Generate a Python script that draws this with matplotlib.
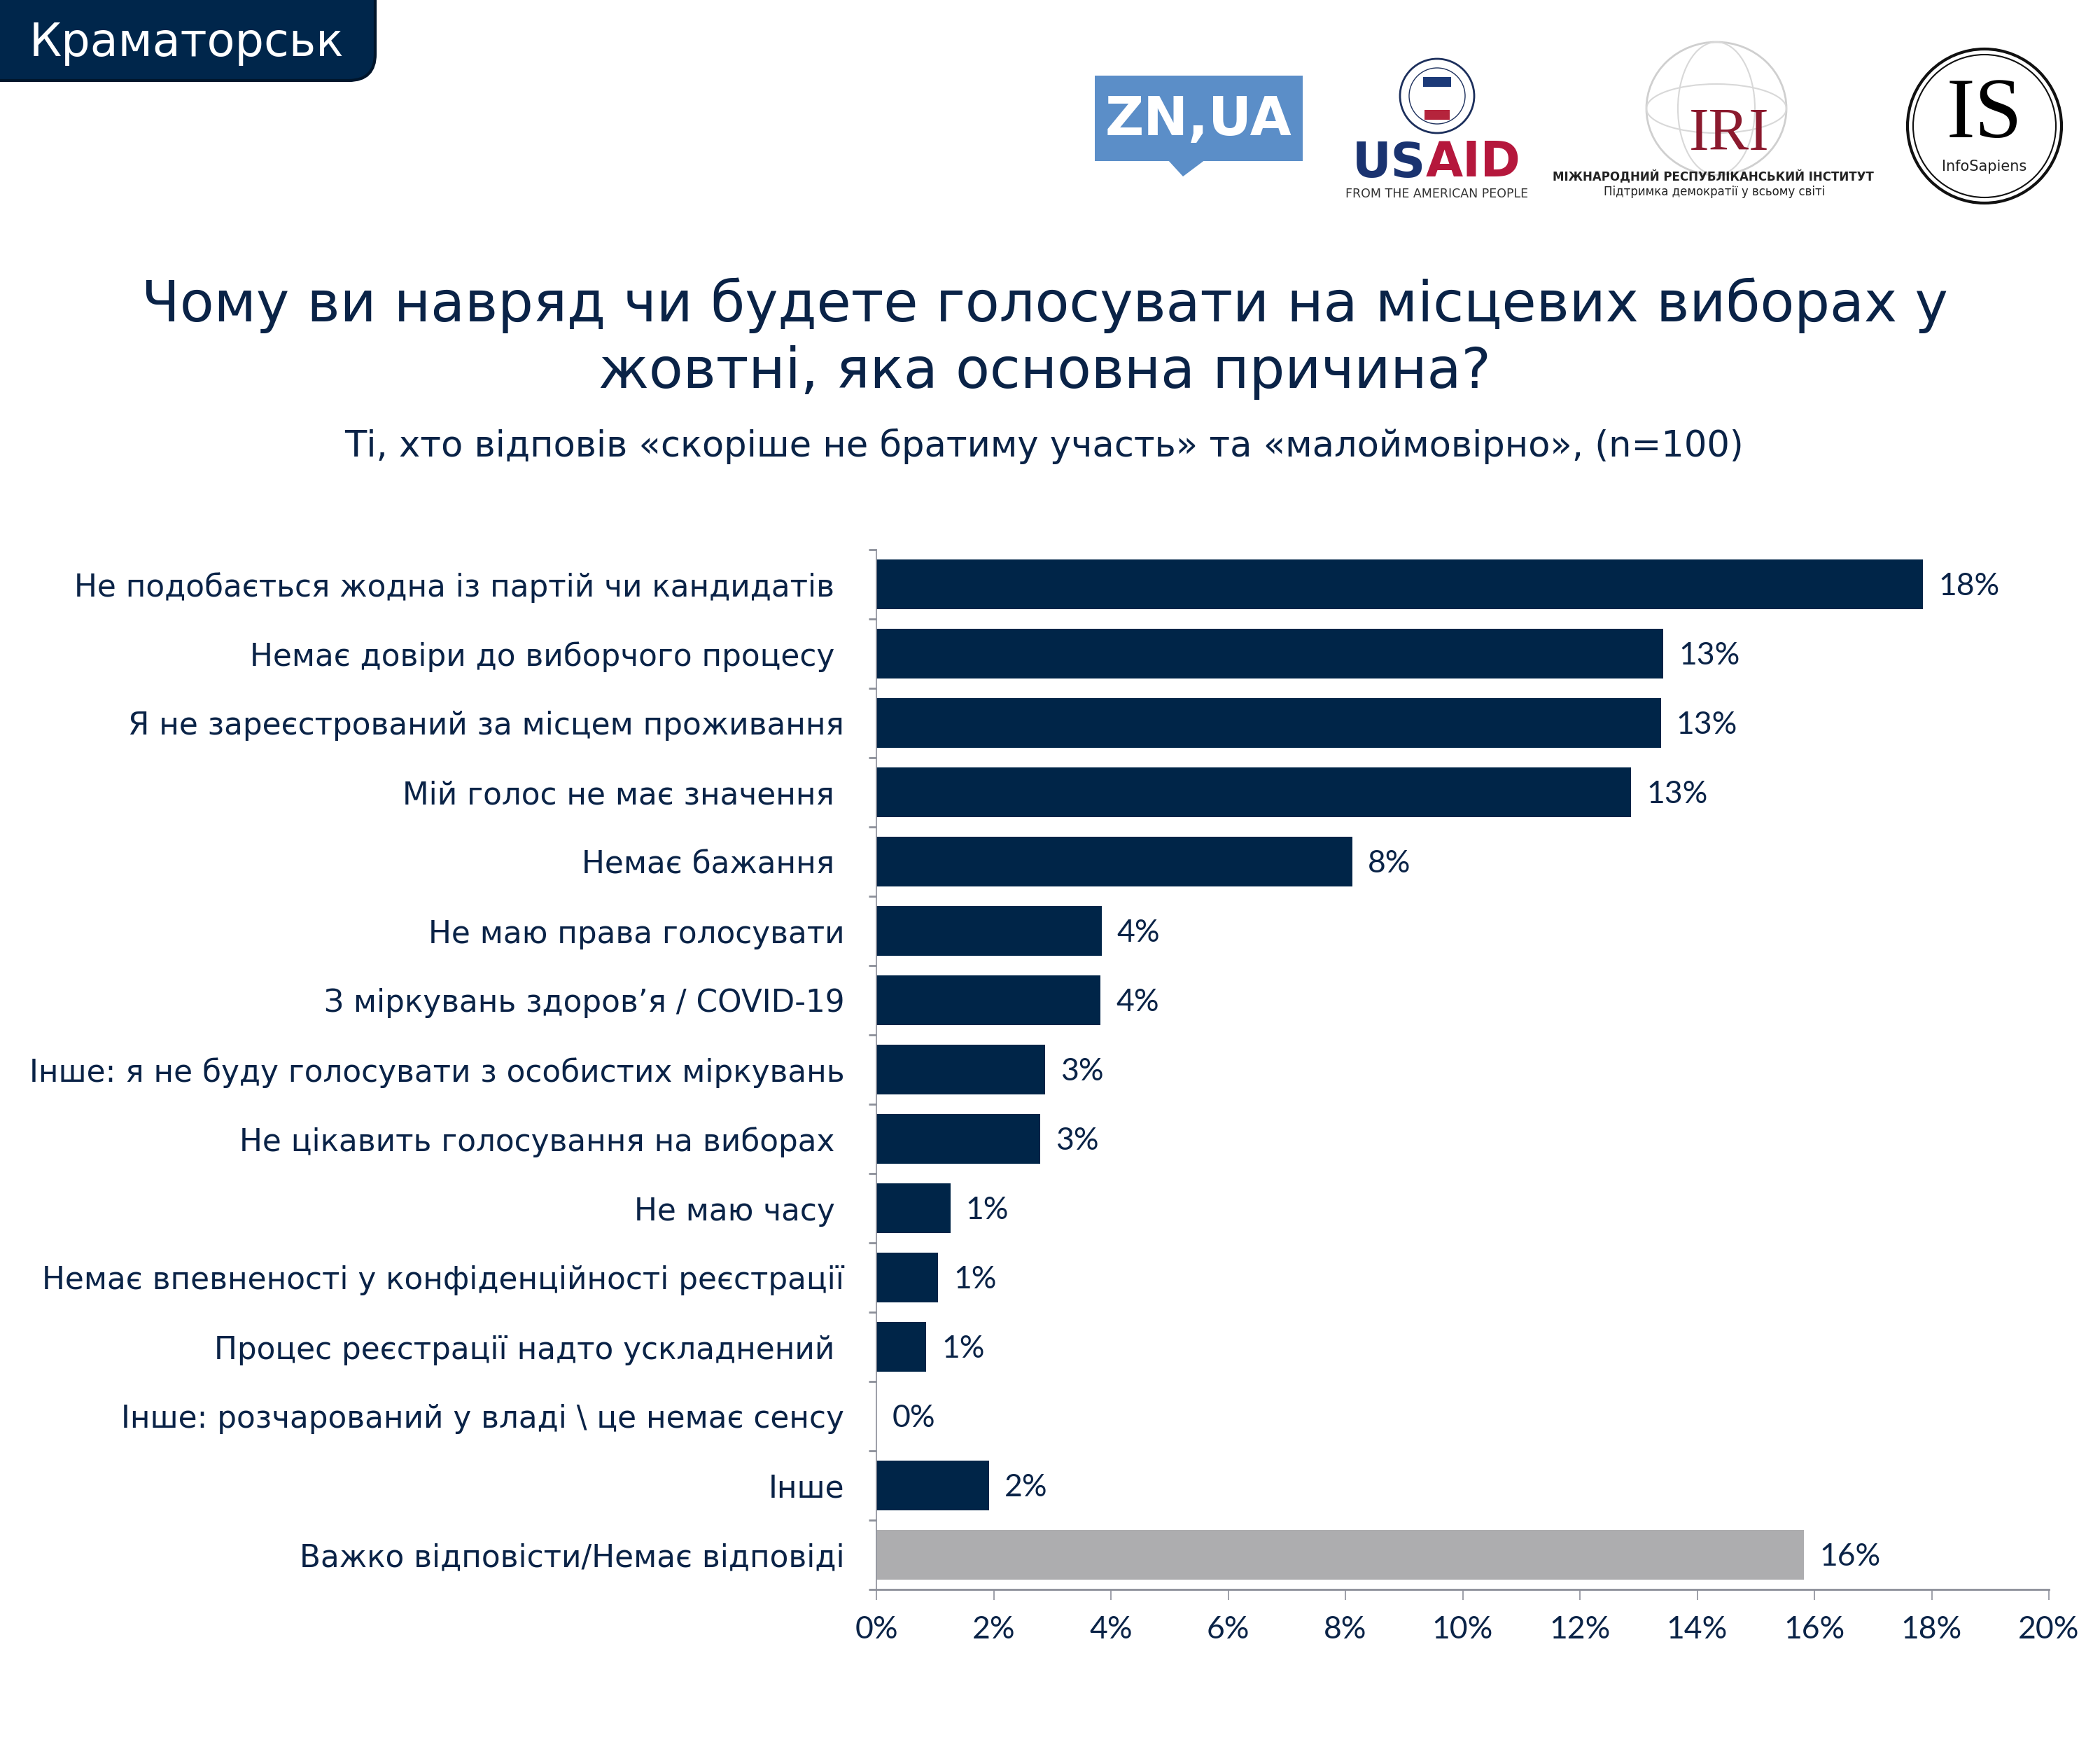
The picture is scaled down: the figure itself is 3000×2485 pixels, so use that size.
import matplotlib
matplotlib.use('Agg')
import matplotlib.pyplot as plt
from matplotlib.patches import FancyBboxPatch, Circle, Rectangle, Polygon, Ellipse

# ---- data ----
categories = [
    "Не подобається жодна із партій чи кандидатів ",
    "Немає довіри до виборчого процесу ",
    "Я не зареєстрований за місцем проживання",
    "Мій голос не має значення ",
    "Немає бажання ",
    "Не маю права голосувати",
    "З міркувань здоров’я / COVID-19",
    "Інше: я не буду голосувати з особистих міркувань",
    "Не цікавить голосування на виборах ",
    "Не маю часу ",
    "Немає впевненості у конфіденційності реєстрації",
    "Процес реєстрації надто ускладнений ",
    "Інше: розчарований у владі \\ це немає сенсу",
    "Інше",
    "Важко відповісти/Немає відповіді",
]
values = [17.85, 13.42, 13.38, 12.87, 8.12, 3.84, 3.82, 2.88, 2.79, 1.26, 1.05, 0.85, 0.0, 1.92, 15.82]
value_labels = ["18%", "13%", "13%", "13%", "8%", "4%", "4%", "3%", "3%", "1%", "1%", "1%", "0%", "2%", "16%"]
xticks = [0, 2, 4, 6, 8, 10, 12, 14, 16, 18, 20]

title_lines = ["Чому ви навряд чи будете голосувати на місцевих виборах у",
               "жовтні, яка основна причина?"]
subtitle = "Ті, хто відповів «скоріше не братиму участь» та «малоймовірно», (n=100)"
city = "Краматорськ"

NAVY = '#002548'
GRAY = '#adadaf'
TXT = '#0a2347'
AXC = '#8c8f99'
NUMFONT = ['Lato', 'DejaVu Sans']

plt.rcParams['font.family'] = ['DejaVu Sans']

fig = plt.figure(figsize=(30, 24.85), dpi=100)
fig.patch.set_facecolor('white')

# ---- overlay in pixel coords ----
ov = fig.add_axes([0, 0, 1, 1])
ov.set_xlim(0, 3000)
ov.set_ylim(2485, 0)
ov.axis('off')

# header box
ov.add_patch(FancyBboxPatch((-60, -60), 596, 175, boxstyle="round,pad=0,rounding_size=38",
                            facecolor='#00264b', edgecolor='#00152b', linewidth=3))
ov.text(42, 62, city, color='white', fontsize=47, va='center', ha='left')

# titles
ov.text(1492, 436, title_lines[0], color=TXT, fontsize=57.5, ha='center', va='center')
ov.text(1492, 532, title_lines[1], color=TXT, fontsize=57.5, ha='center', va='center')
ov.text(1492, 637, subtitle, color=TXT, fontsize=36.8, ha='center', va='center')

# ZN,UA logo
ov.add_patch(Rectangle((1564, 108), 297, 122, facecolor='#5b8ec8', edgecolor='none'))
ov.add_patch(Polygon([[1668, 228], [1722, 228], [1690, 252]], closed=True,
                     facecolor='#5b8ec8', edgecolor='none'))
ov.text(1712, 172, "ZN,UA", color='white', fontsize=55, fontweight='bold',
        ha='center', va='center')

# USAID logo
ov.add_patch(Circle((2053, 137), 53, facecolor='white', edgecolor='#1c2f5c', linewidth=2))
ov.add_patch(Circle((2053, 137), 40, facecolor='white', edgecolor='#1c2f5c', linewidth=1))
ov.add_patch(Rectangle((2033, 110), 40, 14, facecolor='#1c3a78', edgecolor='none'))
ov.add_patch(Rectangle((2035, 157), 36, 14, facecolor='#b5243c', edgecolor='none'))
ov.text(2037, 233, "US", color='#1a3370', fontsize=49.5, fontweight='bold', ha='right', va='center')
ov.text(2037, 233, "AID", color='#b5173c', fontsize=49.5, fontweight='bold', ha='left', va='center')
ov.text(2053, 277, "FROM THE AMERICAN PEOPLE", color='#333333', fontsize=12.5,
        ha='center', va='center')

# IRI logo
ov.add_patch(Ellipse((2452, 155), 200, 190, facecolor='none', edgecolor='#cfcfcf', linewidth=2))
ov.add_patch(Ellipse((2452, 155), 110, 190, facecolor='none', edgecolor='#d8d8d8', linewidth=1.5))
ov.add_patch(Ellipse((2452, 155), 200, 70, facecolor='none', edgecolor='#d8d8d8', linewidth=1.5))
ov.text(2470, 193, "IRI", color='#8b1a2e', fontsize=62, ha='center', va='center',
        family=['Liberation Serif', 'DejaVu Serif'])
ov.text(2447, 253, "МІЖНАРОДНИЙ РЕСПУБЛІКАНСЬКИЙ ІНСТИТУТ", color='#222222', fontsize=12,
        fontweight='bold', ha='center', va='center')
ov.text(2449, 274, "Підтримка демократії у всьому світі", color='#222222', fontsize=12,
        ha='center', va='center')

# InfoSapiens logo
ov.add_patch(Circle((2835, 180), 110, facecolor='none', edgecolor='#111111', linewidth=3))
ov.add_patch(Circle((2835, 180), 102, facecolor='none', edgecolor='#111111', linewidth=1.5))
ov.text(2835, 196, "IS", color='black', fontsize=88, ha='center', va='baseline',
        family=['Liberation Serif', 'DejaVu Serif'])
ov.text(2835, 238, "InfoSapiens", color='#222222', fontsize=15, ha='center', va='center')

# ---- main bar chart ----
ax = fig.add_axes([1252 / 3000, 1 - 2270 / 2485, (2927 - 1252) / 3000, (2270 - 785) / 2485])
n = len(categories)
ypos = list(range(n))
colors = [NAVY] * (n - 1) + [GRAY]
ax.barh(ypos, values, height=0.71, color=colors, edgecolor='none')
ax.set_ylim(n - 0.5, -0.5)
ax.set_xlim(0, 20)

for y, v, lab in zip(ypos, values, value_labels):
    ax.annotate(lab, xy=(v, y), xytext=(16, -2), textcoords='offset points',
                ha='left', va='center', fontsize=32, color=TXT, family=NUMFONT)

ax.set_xticks(xticks)
ax.set_xticklabels([f"{t}%" for t in xticks], fontsize=32, color=TXT, family=NUMFONT)
ax.tick_params(axis='x', direction='out', length=11, width=1.2, color=AXC, pad=16)

ax.set_yticks([i - 0.5 for i in range(n + 1)])
ax.set_yticklabels([])
ax.set_yticks(ypos, minor=True)
ax.set_yticklabels(categories, minor=True, fontsize=31.5, color=TXT)
ax.tick_params(axis='y', which='major', direction='out', length=8, width=2, color=AXC)
ax.tick_params(axis='y', which='minor', length=0, pad=33)

for s in ['top', 'right']:
    ax.spines[s].set_visible(False)
ax.spines['left'].set_color(AXC)
ax.spines['left'].set_linewidth(1.2)
ax.spines['bottom'].set_color(AXC)
ax.spines['bottom'].set_linewidth(2)

fig.savefig('out.png', dpi=100, facecolor='white')
